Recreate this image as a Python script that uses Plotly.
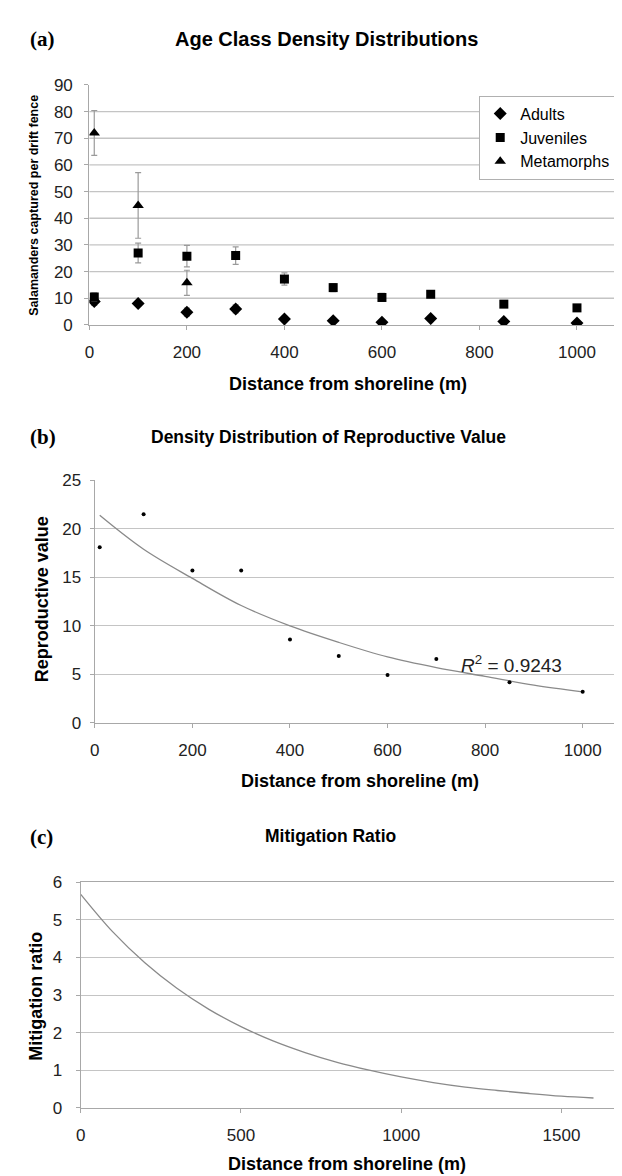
import plotly.graph_objects as go

# ---------------- Data ----------------
# Panel (a): Age class density distributions
dist_a = [10, 100, 200, 300, 400, 500, 600, 700, 850, 1000]
adults = [8.8, 8.0, 4.8, 6.0, 2.2, 1.6, 1.0, 2.4, 1.3, 0.7]
adults_err = [1.5, 1.0, 1.5, 1.5, 1.0, 0.8, 0.6, 1.0, 0.6, 0.5]
juveniles = [10.5, 27.0, 25.8, 26.0, 17.2, 14.0, 10.3, 11.5, 7.8, 6.4]
juveniles_err = [1.5, 3.7, 4.0, 3.3, 2.3, 1.5, 1.5, 1.2, 1.2, 1.0]
dist_meta = [10, 100, 200]
metamorphs = [72.0, 44.8, 15.8]
metamorphs_err = [8.4, 12.3, 4.7]
a_yticks = [0, 10, 20, 30, 40, 50, 60, 70, 80, 90]
a_gridlines = [10, 20, 30, 40, 50, 60, 70, 80]

# Panel (b): Reproductive value
dist_b = [10, 100, 200, 300, 400, 500, 600, 700, 850, 1000]
repro_value = [18.1, 21.5, 15.7, 15.7, 8.6, 6.9, 4.95, 6.6, 4.2, 3.2]
trend_x = [10, 100, 200, 300, 400, 500, 600, 700, 800, 900, 1000]
trend_y = [21.4, 17.9, 14.9, 12.1, 10.0, 8.3, 6.8, 5.7, 4.8, 3.9, 3.2]
r2_text = "<i>R</i><sup>2</sup> = 0.9243"

# Panel (c): Mitigation ratio
dist_c = [0, 100, 200, 300, 400, 500, 600, 700, 800, 900, 1000, 1100, 1200, 1300, 1400, 1500, 1600]
mitigation = [5.68, 4.68, 3.86, 3.18, 2.62, 2.16, 1.78, 1.47, 1.21, 1.0, 0.82, 0.67, 0.55, 0.46, 0.38, 0.31, 0.26]

# ---------------- Styles ----------------
W, H = 622, 1176
FONT = "Liberation Sans, Arial, sans-serif"
SERIF = "Liberation Serif, Times New Roman, serif"
GRID = "#c4c4c4"
AXIS = "#a8a8a8"
TICKC = "#222222"
CURVE = "#8a8a8a"
ERR = "#9a9a9a"


def px_x(p):
    return p / W


def px_y(p):
    return 1 - p / H


fig = go.Figure()

# (a)
fig.add_trace(go.Scatter(x=dist_a, y=adults, mode="markers", name="Adults",
                         marker=dict(symbol="diamond", size=10, color="black"),
                         error_y=dict(type="data", array=adults_err, color=ERR, thickness=1.2, width=3),
                         xaxis="x", yaxis="y"))
fig.add_trace(go.Scatter(x=dist_a, y=juveniles, mode="markers", name="Juveniles",
                         marker=dict(symbol="square", size=9, color="black"),
                         error_y=dict(type="data", array=juveniles_err, color=ERR, thickness=1.2, width=3),
                         xaxis="x", yaxis="y"))
fig.add_trace(go.Scatter(x=dist_meta, y=metamorphs, mode="markers", name="Metamorphs",
                         marker=dict(symbol="triangle-up", size=10, color="black"),
                         error_y=dict(type="data", array=metamorphs_err, color=ERR, thickness=1.2, width=3),
                         xaxis="x", yaxis="y"))

# (b)
fig.add_trace(go.Scatter(x=trend_x, y=trend_y, mode="lines", line=dict(color=CURVE, width=1.3, shape="spline"),
                         showlegend=False, xaxis="x2", yaxis="y2"))
fig.add_trace(go.Scatter(x=dist_b, y=repro_value, mode="markers", marker=dict(size=4, color="black"),
                         showlegend=False, xaxis="x2", yaxis="y2"))

# (c)
fig.add_trace(go.Scatter(x=dist_c, y=mitigation, mode="lines", line=dict(color=CURVE, width=1.3, shape="spline"),
                         showlegend=False, xaxis="x3", yaxis="y3"))

# (a) gridlines (no line at the top value 90)
for v in a_gridlines:
    fig.add_shape(type="line", xref="x domain", x0=0, x1=1, yref="y", y0=v, y1=v,
                  line=dict(color=GRID, width=1.3), layer="below")

tickfont = dict(family=FONT, size=17, color=TICKC)

common_x = dict(showgrid=False, zeroline=False, showline=True, linecolor=AXIS, linewidth=1.3,
                ticks="outside", ticklen=4, tickcolor=AXIS, tickfont=tickfont, fixedrange=True)
common_y = dict(zeroline=False, showline=True, linecolor=AXIS, linewidth=1.3,
                ticks="outside", ticklen=4, tickcolor=AXIS, tickfont=tickfont,
                gridcolor=GRID, gridwidth=1.3, fixedrange=True)

# Domains (pixel-derived)
a_x = [px_x(77), px_x(617.7)]
a_y = [px_y(313), px_y(69)]
b_x = [px_x(82.5), 1.0]
b_y = [px_y(717.5), px_y(471)]
c_x = [px_x(68.3), px_x(617.5)]
c_y = [px_y(1108.7), px_y(879.5)]

fig.update_layout(
    width=W, height=H,
    margin=dict(l=0, r=0, t=0, b=0),
    paper_bgcolor="white", plot_bgcolor="white",
    font=dict(family=FONT, color="black"),
    showlegend=True,
    legend=dict(x=px_x(470), y=px_y(80), xanchor="left", yanchor="top",
                bgcolor="white", bordercolor="#b0b0b0", borderwidth=1,
                font=dict(family=FONT, size=16, color="black"),
                itemwidth=30, tracegroupgap=0),
    xaxis=dict(common_x, domain=a_x, range=[0, 1100], tickvals=[0, 200, 400, 600, 800, 1000],
               anchor="y", ticklabelstandoff=8),
    yaxis=dict(common_y, domain=a_y, range=[0, 90], tickvals=a_yticks, showgrid=False,
               anchor="x", ticklabelstandoff=8),
    xaxis2=dict(common_x, domain=b_x, range=[0, 1097], tickvals=[0, 200, 400, 600, 800, 1000],
                anchor="y2", ticklabelstandoff=8),
    yaxis2=dict(common_y, domain=b_y, range=[0, 25], tickvals=[0, 5, 10, 15, 20, 25], showgrid=True,
                anchor="x2", ticklabelstandoff=5),
    xaxis3=dict(common_x, domain=c_x, range=[0, 1700], tickvals=[0, 500, 1000, 1500],
                anchor="y3", mirror=True, ticklabelstandoff=8),
    yaxis3=dict(common_y, domain=c_y, range=[0, 6], tickvals=[0, 1, 2, 3, 4, 5, 6], showgrid=True,
                anchor="x3", mirror=True, ticklabelstandoff=10),
)

ann = []


def add_text(text, x, y, size, bold=True, family=FONT, angle=0):
    t = f"<b>{text}</b>" if bold else text
    ann.append(dict(text=t, x=px_x(x), y=px_y(y), xref="paper", yref="paper",
                    showarrow=False, xanchor="center", yanchor="middle", textangle=angle,
                    font=dict(family=family, size=size, color="black")))


# Panel labels and titles
add_text("(a)", 30, 22, 21, family=SERIF)
add_text("Age Class Density Distributions", 316, 22, 20)
add_text("(b)", 30, 427, 21, family=SERIF)
add_text("Density Distribution of Reproductive Value", 318, 427, 17.5)
add_text("(c)", 29, 833, 21, family=SERIF)
add_text("Mitigation Ratio", 320, 832, 17.5)

# Axis titles
add_text("Distance from shoreline (m)", 338, 373, 18)
add_text("Salamanders captured per drift fence", 21, 191, 12.5, angle=-90)
add_text("Distance from shoreline (m)", 350, 777, 18)
add_text("Reproductive value", 30, 592, 18, angle=-90)
add_text("Distance from shoreline (m)", 337, 1166, 18)
add_text("Mitigation ratio", 23, 995, 18, angle=-90)

# R^2 label
ann.append(dict(text=r2_text, x=px_x(503), y=px_y(658), xref="paper", yref="paper",
                showarrow=False, xanchor="center", yanchor="middle",
                font=dict(family=FONT, size=19, color="#222222")))

fig.update_layout(annotations=ann)

fig.write_html("out.html")
